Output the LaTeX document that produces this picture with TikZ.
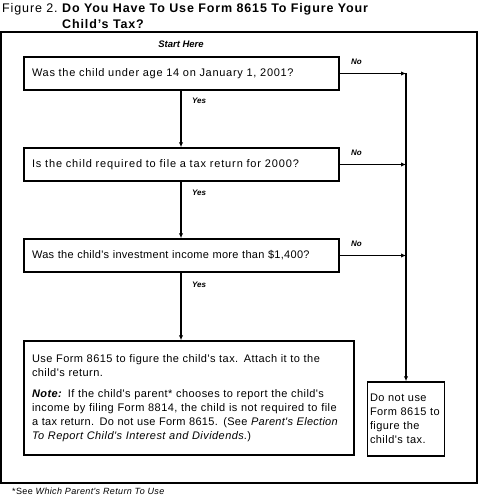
\documentclass[tikz,border=0pt]{standalone}
\usepackage{fontspec}
\setmainfont{Liberation Sans}
\newfontfamily\bxfont[LetterSpace=4,Ligatures=TeXOff]{Liberation Sans}
\newfontfamily\ttlfont[LetterSpace=7]{Liberation Sans}
\usetikzlibrary{arrows.meta}
\begin{document}
\begin{tikzpicture}[x=1pt,y=-1pt,
  qbox/.style={draw,line width=1.5pt,inner sep=0pt,minimum height=33pt,minimum width=315pt,
    text width=299pt,align=left,font=\bxfont\fontsize{11}{13.5}\selectfont},
  lab/.style={font=\fontsize{8}{9}\selectfont\bfseries\itshape,inner sep=0pt},
  arr/.style={line width=1.3pt,-{Latex[length=5pt,width=4.5pt]}},
  ln/.style={line width=1.3pt}]
\useasboundingbox (0,0) rectangle (481,500);
% title
\node[anchor=base west,inner sep=0pt,font=\ttlfont\fontsize{12.5}{15}\selectfont] (fig) at (2,13) {Figure 2.};
\node[anchor=base west,inner sep=0pt,font=\ttlfont\fontsize{12.5}{15}\selectfont\bfseries] (t1) at (62,13) {Do You Have To Use Form 8615 To Figure Your};
\node[anchor=base west,inner sep=0pt,font=\ttlfont\fontsize{12.5}{15}\selectfont\bfseries] (t2) at (62,29) {Child’s Tax?};
% frame
\draw[line width=2pt] (1,32) rectangle (477,483);
\node[lab,font=\fontsize{9.5}{10}\selectfont\bfseries\itshape] (start) at (181,44) {Start Here};
% question boxes
\node[qbox] (b1) at (181.5,73.5) {\addfontfeature{LetterSpace=6.5}Was the child under age 14 on January 1, 2001?};
\node[qbox] (b2) at (181.5,164.5) {\addfontfeature{LetterSpace=8}Is the child required to file a tax return for 2000?};
\node[qbox] (b3) at (181.5,255.5) {\addfontfeature{LetterSpace=2.5}Was the child's investment income more than \$1,400?};
\node[draw,line width=1.5pt,inner sep=0pt,minimum width=330pt,minimum height=114pt,
  text width=314pt,align=left,font=\bxfont\fontsize{11}{14}\selectfont] (b4) at (189,398)
  {Use Form 8615 to figure the child's tax. Attach it to the\\child's return.\\[7pt]
   \textbf{\textit{Note:}} If the child's parent* chooses to report the child's\\
   income by filing Form 8814, the child is not required to file\\
   {\addfontfeature{LetterSpace=2.5}a tax return. Do not use Form 8615. (See \textit{Parent's Election}}\\
   \textit{To Report Child's Interest and Dividends}.)};
\node[draw,line width=1.5pt,inner sep=0pt,minimum width=77pt,minimum height=74pt,
  text width=72pt,align=left,font=\bxfont\fontsize{11}{14}\selectfont] (b5) at (406,419)
  {Do not use\\Form 8615 to\\figure the\\child's tax.\\[3pt]};
% yes arrows
\draw[arr] (b1.south -| start) -- (b2.north -| start);
\draw[arr] (b2.south -| start) -- (b3.north -| start);
\draw[arr] (b3.south -| start) -- (b4.north -| start);
\node[lab,anchor=west] (y1) at (192,101) {Yes};
\node[lab,anchor=west] (y2) at (192,193) {Yes};
\node[lab,anchor=west] (y3) at (192,285) {Yes};
% no arrows
\coordinate (n1) at (406,73.5);
\coordinate (n2) at (406,164.5);
\coordinate (n3) at (406,255.5);
\draw[arr] (b1.east) -- (n1);
\draw[arr] (b2.east) -- (n2);
\draw[arr] (b3.east) -- (n3);
\draw[ln] (n1) -- (n3);
\draw[arr] (n3) -- (b5.north);
\node[lab,anchor=west] (no1) at (351,62) {No};
\node[lab,anchor=west] (no2) at (351,153) {No};
\node[lab,anchor=west] (no3) at (351,244) {No};
% footnote
\node[anchor=base west,inner sep=0pt,font=\bxfont\fontsize{9}{10}\selectfont] (fn) at (12,494)
  {*See \textit{Which Parent's Return To Use}};
\end{tikzpicture}
\end{document}
